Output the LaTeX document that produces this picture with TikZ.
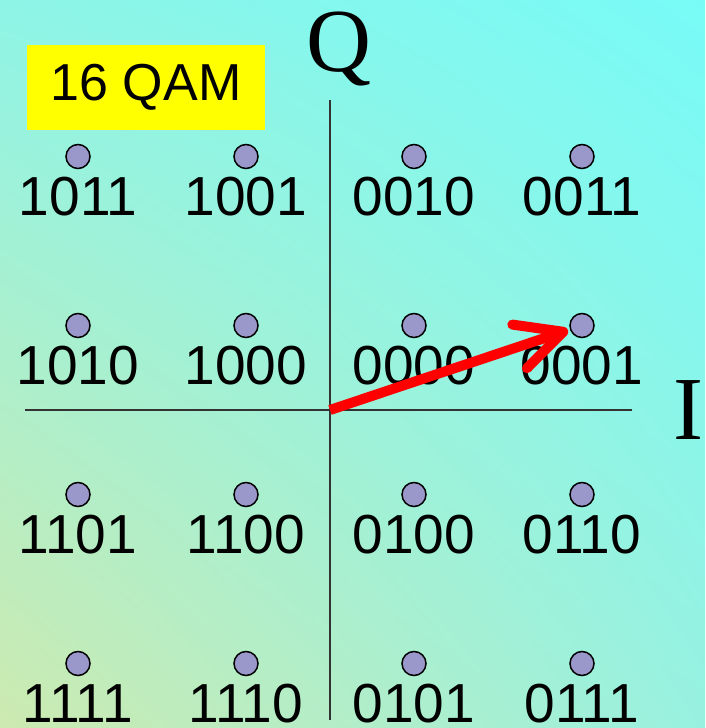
\documentclass[tikz,border=0pt]{standalone}
\usepackage{fontspec}
\setmainfont{Liberation Sans}
\newfontfamily\axisfont{Liberation Serif}
\usepackage{tikz}
\usetikzlibrary{arrows.meta, positioning, shadings}
\definecolor{bgcyan}{HTML}{78FBF7}
\definecolor{bgleft}{HTML}{8EF4E6}
\definecolor{bgright}{HTML}{98F1E0}
\definecolor{bglow}{HTML}{CDEAB0}
\definecolor{qamyellow}{HTML}{FFFF00}
\definecolor{qamdot}{HTML}{9A98CB}
\definecolor{qamred}{HTML}{FF0000}

\begin{document}
\begin{tikzpicture}[
        x=84pt, y=84.5pt,
        dot/.style={circle, draw=black, line width=1.5pt, fill=qamdot,
                    minimum size=24pt, inner sep=0pt},
        bits/.style={anchor=base, inner sep=0pt,
                     font=\fontsize{55}{60}\selectfont},
        axislbl/.style={anchor=base, inner sep=0pt,
                        font=\axisfont\fontsize{90}{96}\selectfont},
        titlebox/.style={rectangle, fill=qamyellow, inner sep=0pt,
                         minimum width=238pt, minimum height=85pt,
                         font=\fontsize{52}{56}\selectfont},
        axis/.style={line width=1.2pt, draw=black!80},
        vec/.style={line width=10pt, draw=qamred, shorten >=2pt,
                    -{Straight Barb[length=46pt, width=46pt, round]}}
    ]
        \useasboundingbox (-330pt,-318pt) rectangle (375pt,410pt);
        \shade[upper left=bgleft, upper right=bgcyan,
               lower left=bglow, lower right=bgright]
            (-330pt,-318pt) rectangle (375pt,410pt);

        \node[titlebox] (title) at (-2.19,3.817) {16 QAM};

        % axes
        \coordinate (o)    at (0,0);
        \coordinate (qtop) at (0,3.67);
        \coordinate (qbot) at (0,-3.67);
        \coordinate (ileft)  at (-3.63,0);
        \coordinate (iright) at (3.6,0);
        \draw[axis] (qbot) -- (qtop);
        \draw[axis] (ileft) -- (iright);
        \node[axislbl] (qlbl) at (0.107,4.0)   {Q};
        \node[axislbl] (ilbl) at (4.262,-0.355) {I};

        % constellation points
        \node[dot] (d1011) at (-3,3) {};
        \node[dot] (d1001) at (-1,3) {};
        \node[dot] (d0010) at (1,3)  {};
        \node[dot] (d0011) at (3,3)  {};

        \node[dot] (d1010) at (-3,1) {};
        \node[dot] (d1000) at (-1,1) {};
        \node[dot] (d0000) at (1,1)  {};
        \node[dot] (d0001) at (3,1)  {};

        \node[dot] (d1101) at (-3,-1) {};
        \node[dot] (d1100) at (-1,-1) {};
        \node[dot] (d0100) at (1,-1)  {};
        \node[dot] (d0110) at (3,-1)  {};

        \node[dot] (d1111) at (-3,-3) {};
        \node[dot] (d1110) at (-1,-3) {};
        \node[dot] (d0101) at (1,-3)  {};
        \node[dot] (d0111) at (3,-3)  {};

        % bit labels
        \node[bits] (l1011) at ([yshift=-59pt]d1011.center) {1011};
        \node[bits] (l1001) at ([yshift=-59pt]d1001.center) {1001};
        \node[bits] (l0010) at ([yshift=-59pt]d0010.center) {0010};
        \node[bits] (l0011) at ([yshift=-59pt]d0011.center) {0011};

        \node[bits] (l1010) at ([yshift=-59pt]d1010.center) {1010};
        \node[bits] (l1000) at ([yshift=-59pt]d1000.center) {1000};
        \node[bits] (l0000) at ([yshift=-59pt]d0000.center) {0000};
        \node[bits] (l0001) at ([yshift=-59pt]d0001.center) {0001};

        \node[bits] (l1101) at ([yshift=-59pt]d1101.center) {1101};
        \node[bits] (l1100) at ([yshift=-59pt]d1100.center) {1100};
        \node[bits] (l0100) at ([yshift=-59pt]d0100.center) {0100};
        \node[bits] (l0110) at ([yshift=-59pt]d0110.center) {0110};

        \node[bits] (l1111) at ([yshift=-59pt]d1111.center) {1111};
        \node[bits] (l1110) at ([yshift=-59pt]d1110.center) {1110};
        \node[bits] (l0101) at ([yshift=-59pt]d0101.center) {0101};
        \node[bits] (l0111) at ([yshift=-59pt]d0111.center) {0111};

        % symbol vector
        \draw[vec] (o) -- (d0001);
    \end{tikzpicture}
\end{document}
